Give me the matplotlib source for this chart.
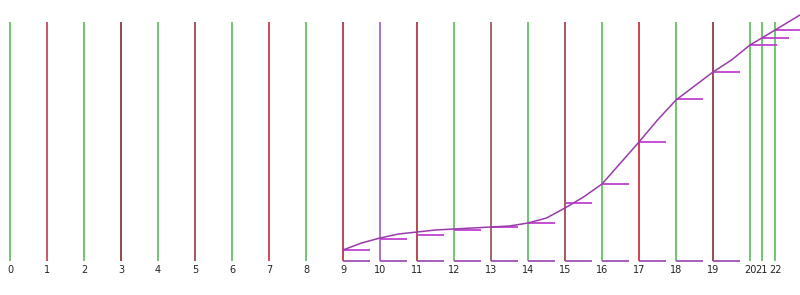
import matplotlib
matplotlib.use("Agg")
import matplotlib.pyplot as plt

# tick labels and their positions along the axis
labels = [str(i) for i in range(23)]
positions = list(range(20)) + [20.0, 20.32, 20.68]

# colour of each vertical line
line_colors = ['#66c066', '#c04a5a', '#66c066', '#8e3a3a', '#66c066', '#9a4a52',
               '#66c066', '#d03a4a', '#66c066', '#b03a44', '#a868c0', '#b03a44',
               '#66c066', '#9a5a62', '#66c066', '#a04a52', '#66c066', '#d03040',
               '#66c066', '#8e3a48', '#66c066', '#66c066', '#66c066']

# step levels (one short bar per tick from 9 on)
step_x = positions[9:]
step_y = [11, 22, 26, 31, 34, 38, 58, 77, 119, 162, 189, 216, 223, 231]

# smooth curve
curve_x = [9, 9.5, 10, 10.5, 11, 11.5, 12, 12.5, 13, 13.5, 14, 14.5, 15, 15.5,
           16, 16.5, 17, 17.5, 18, 18.5, 19, 19.5, 20, 20.32, 20.68, 21.35]
curve_y = [11, 18, 23, 27, 29, 31, 32, 33, 34, 35, 38, 43, 53, 64,
           77, 98, 119, 141, 161, 175, 189, 201, 216, 223, 231, 246]

line_top = 239

fig = plt.figure(figsize=(8, 2.95), dpi=100)
ax = fig.add_axes([0, 0, 1, 1])
ax.set_xlim(-10 / 37, 790 / 37)
ax.set_ylim(-34, 261)
ax.axis('off')

for p, c, lab in zip(positions, line_colors, labels):
    ax.plot([p, p], [0, line_top], color=c, lw=1.3, solid_capstyle='butt')
    ax.text(p, -9, lab, ha='center', va='center', fontsize=7,
            family='DejaVu Sans', color='#222222')

# base bars and step bars
seg_len = 27 / 37
for i, (sx, sy) in enumerate(zip(step_x, step_y)):
    if i < 11:
        ax.plot([sx, sx + seg_len], [0, 0], color='#a050b8', lw=1.3,
                solid_capstyle='butt')
    ax.plot([sx, sx + seg_len], [sy, sy], color='#c040d0', lw=1.3,
            solid_capstyle='butt')

ax.plot(curve_x, curve_y, color='#9a3aaa', lw=1.1)

fig.savefig('out.png', dpi=100)
